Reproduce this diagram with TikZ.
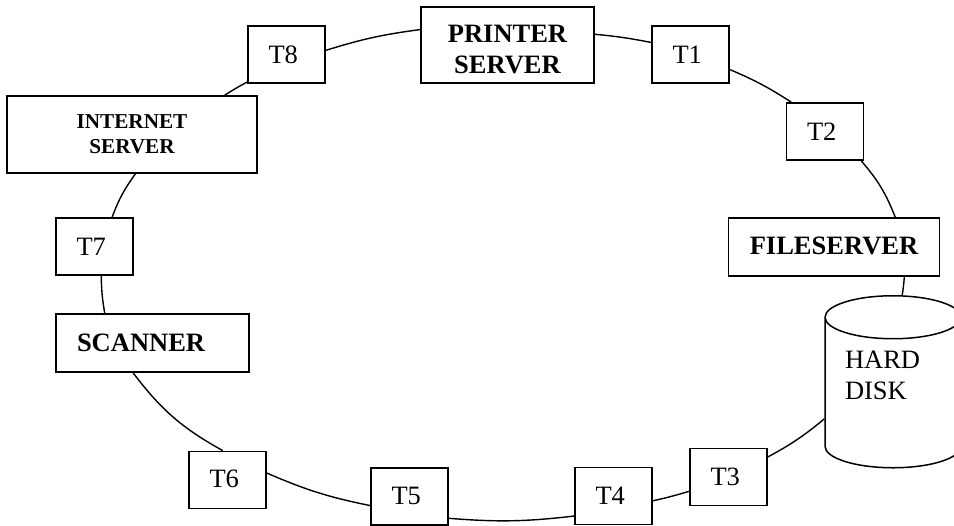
\documentclass[tikz,border=0pt]{standalone}
\usepackage{fontspec}
\setmainfont{Liberation Serif}
\usetikzlibrary{shapes.geometric}
\newcommand{\bigtext}{\fontsize{26.5}{31}\selectfont}
\newcommand{\smalltext}{\fontsize{21.2}{25}\selectfont\bfseries}
\tikzset{
    termbox/.style={draw, line width=1.7pt, minimum height=57pt, inner ysep=0pt, inner xsep=20.5pt, text width=36pt, align=left, font=\bigtext},
    serverbox/.style={draw, line width=1.7pt, inner sep=0pt, align=center, font=\bigtext\bfseries},
    ring/.style={line width=1.4pt}
}
\begin{document}
\begin{tikzpicture}[x=1pt,y=1pt]
    \useasboundingbox (0,0) rectangle (954,526);

    \node[serverbox, minimum width=173pt, minimum height=76pt] (printer) at (507.5,481) {\rule{0pt}{27pt}PRINTER\\SERVER};
    \node[termbox] (t1) at (690.5,471.5) {T1};
    \node[termbox] (t2) at (825,394.5) {T2};
    \node[serverbox, minimum width=211pt, minimum height=58pt] (fileserver) at (834,279) {\raisebox{2pt}{FILESERVER}};
    \node[cylinder, draw, line width=1.5pt, shape border rotate=90, aspect=0.316, minimum width=136pt, minimum height=172pt, inner xsep=20pt, inner ysep=0pt, text width=96pt, align=left, font=\bigtext] (disk) at (893,125.5) {HARD\\DISK\rule[-50pt]{0pt}{1pt}};
    \node[termbox] (t3) at (728.5,49) {T3};
    \node[termbox] (t4) at (613.5,30) {T4};
    \node[termbox] (t5) at (409.5,29.5) {\raisebox{2pt}{T5}};
    \node[termbox] (t6) at (227.5,46) {\raisebox{2pt}{T6}};
    \node[draw, line width=1.7pt, minimum width=193pt, minimum height=58pt, inner ysep=0pt, inner xsep=21pt, text width=151pt, align=left, font=\bigtext\bfseries] (scanner) at (152.5,183) {SCANNER};
    \node[termbox] (t7) at (94.5,279.5) {T7};
    \node[serverbox, minimum width=250pt, minimum height=77pt, font=\smalltext] (internet) at (132,391.5) {INTERNET\\SERVER};
    \node[termbox] (t8) at (286.5,471.5) {T8};

%    ring, clockwise from the printer server
    \draw[ring] (printer.7.9) to[bend left=2.8] (t1.163.4);
    \draw[ring] (t1.-21.9) to[bend left=5] (t2.139.2);
    \draw[ring] (t2.-39.2) to[bend left=9.7] (fileserver.26.6);
    \draw[ring] (fileserver.-23.1) to[bend left=2] (disk.85.8);
    \draw[ring] (disk.195.2) to[bend left=5.7] (t3.27.5);
    \draw[ring] (t3.200) to[bend left=2] (t4.-7.4);
    \draw[ring] (t4.207.4) to[bend left=5.6] (t5.-29.2);
    \draw[ring] (t5.193.9) to[bend left=6] (t6.10.7);
    \draw[ring] (t6.99.4) to[bend left=12] (scanner.237.9);
    \draw[ring] (scanner.148) to[bend left=4.5] (t7.-77.2);
    \draw[ring] (t7.59.9) to[bend left=7.7] (internet.-85.5);
    \draw[ring] (internet.23) to[bend left=2] (t8.215.4);
    \draw[ring] (t8.6) to[bend left=4.9] (printer.170.8);
\end{tikzpicture}
\end{document}
